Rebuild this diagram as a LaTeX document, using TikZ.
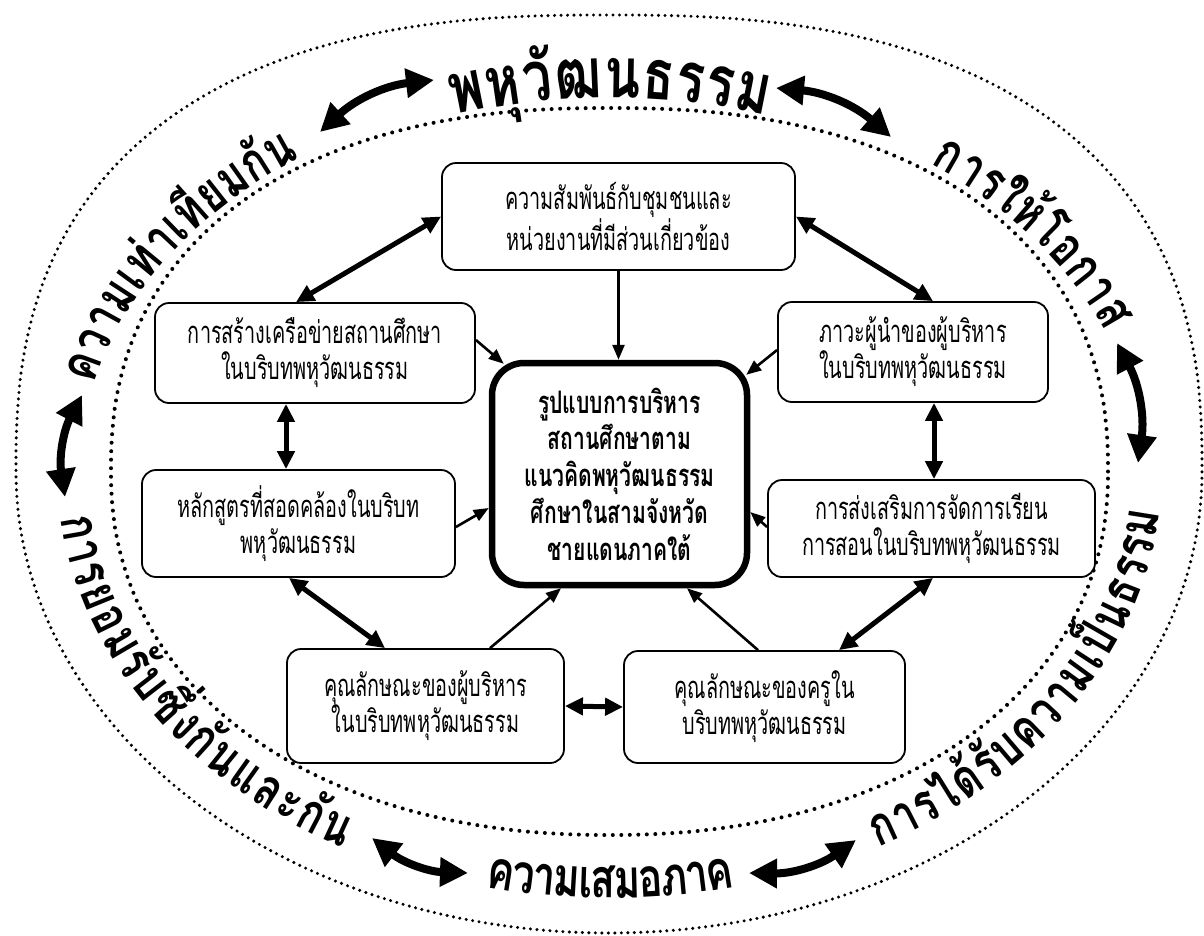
\documentclass[tikz,border=0pt]{standalone}
\usepackage{fontspec}
\usetikzlibrary{arrows.meta,calc}
\newfontfamily\thaifont[Script=Thai,FakeStretch=0.64]{Loma}
\newfontfamily\thaiboldfont[Script=Thai,FakeStretch=0.68]{Loma}
\newfontfamily\arcfont[Script=Thai,FakeStretch=0.75]{Loma}
\newlength\ATw
\newsavebox\ATbox
\newcommand\ATmeasure[1]{%
  \pgfinterruptpicture\global\setbox\ATbox\hbox{#1}\endpgfinterruptpicture
  \ATw=\wd\ATbox}
\newcommand\arctext[8]{%
  \pgfmathsetmacro\ATr{#4/#3}%
  \gdef\ATW{0}%
  \foreach \cl in {#8}{%
    \ATmeasure{#7\cl}%
    \pgfmathsetmacro\ATtmp{\ATW+\ATw}%
    \global\let\ATW\ATtmp
  }%
  \gdef\ATL{0}%
  \pgfmathsetmacro\ATdt{(#6-#5)/40}%
  \foreach \ii in {1,...,40}{%
    \pgfmathsetmacro\ATtt{#5+(\ii-0.5)*\ATdt}%
    \pgfmathsetmacro\ATtmp{\ATL+#3*sqrt(sin(\ATtt)^2+(\ATr*cos(\ATtt))^2)*abs(\ATdt)*pi/180}%
    \global\let\ATL\ATtmp
  }%
  \pgfmathsetmacro\ATk{\ATL/\ATW}%
  \pgfmathsetmacro\ATsg{(#6>#5) ? 1 : -1}%
  \gdef\ATt{#5}%
  \foreach \cl in {#8}{%
    \ATmeasure{#7\cl}%
    \pgfmathsetmacro\ATmid{\ATt+\ATsg*(\ATk*\ATw/2)/(#3*sqrt(sin(\ATt)^2+(\ATr*cos(\ATt))^2))*180/pi}%
    \pgfmathsetmacro\ATend{\ATmid+\ATsg*(\ATk*\ATw/2)/(#3*sqrt(sin(\ATmid)^2+(\ATr*cos(\ATmid))^2))*180/pi}%
    \pgfmathsetmacro\ATrot{\ATsg<0 ? atan2(-#4*cos(\ATmid), #3*sin(\ATmid)) : atan2(#4*cos(\ATmid), -#3*sin(\ATmid))}%
    \pgfmathsetmacro\ATx{#1+#3*cos(\ATmid)}%
    \pgfmathsetmacro\ATy{#2-#4*sin(\ATmid)}%
    \node[anchor=base,rotate=\ATrot,inner sep=0pt,outer sep=0pt] at (\ATx,\ATy) {#7\cl};
    \global\let\ATt\ATend
  }%
}
\tikzset{
  box/.style={draw, line width=1.8pt, rounded corners=14pt, align=center, inner sep=2pt,
    font=\thaifont\fontsize{31}{36}\selectfont, fill=white},
  mainbox/.style={draw, line width=6.5pt, rounded corners=32pt, align=center,
    font=\thaiboldfont\bfseries\fontsize{31}{36.7}\selectfont},
  one/.style={line width=2.6pt, -{Triangle[length=15pt,width=12pt]}},
  two/.style={line width=5pt, {Triangle[length=18pt,width=17pt]}-{Triangle[length=18pt,width=17pt]}},
  big/.style={line width=8pt, {Triangle[length=28pt,width=28pt]}-{Triangle[length=28pt,width=28pt]}},
  outerdots/.style={line width=3.4pt, line cap=round, dash pattern=on 0pt off 6.5pt},
  innerdots/.style={line width=4pt, line cap=round, dash pattern=on 0pt off 8.5pt},
}
\newcommand\arcbold{\arcfont\bfseries\fontsize{54}{54}\selectfont}
\newcommand\arcbig{\arcfont\bfseries\fontsize{70}{70}\selectfont}
\begin{document}
\begin{tikzpicture}[x=1pt,y=-1pt]
\useasboundingbox (0,0) rectangle (1204,935);
\fill[white] (0,0) rectangle (1204,935);
% outer and inner dotted rings
\draw[outerdots]
  plot[domain=0:180,samples=200,variable=\t]
    ({609+593*(cos(\t)<0?-1:1)*(abs(cos(\t))+0.00001)^(0.8)},{472-457*(abs(sin(\t))+0.00001)^(0.8)})
  -- plot[domain=180:360,samples=200,variable=\t]
    ({609+593*(cos(\t)<0?-1:1)*(abs(cos(\t))+0.00001)^(1.0)},{472+461*(abs(sin(\t))+0.00001)^(1.0)}) -- cycle;
\draw[innerdots]
  plot[domain=0:180,samples=200,variable=\t]
    ({609.5+498.5*(cos(\t)<0?-1:1)*(abs(cos(\t))+0.00001)^(0.87)},{471.5-363.5*(abs(sin(\t))+0.00001)^(0.87)})
  -- plot[domain=180:360,samples=200,variable=\t]
    ({609.5+498.5*(cos(\t)<0?-1:1)*(abs(cos(\t))+0.00001)^(0.93)},{471.5+363.5*(abs(sin(\t))+0.00001)^(0.93)}) -- cycle;

% boxes
\node[box, minimum width=353pt, minimum height=107pt] (t) at (618.5,216.5) {ความสัมพันธ์กับชุมชนและ\\หน่วยงานที่มีส่วนเกี่ยวข้อง};
\node[box, minimum width=320pt, minimum height=100pt] (ul) at (315,353) {การสร้างเครือข่ายสถานศึกษา\\ในบริบทพหุวัฒนธรรม};
\node[box, minimum width=270pt, minimum height=100pt] (ur) at (913,352) {ภาวะผู้นำของผู้บริหาร\\ในบริบทพหุวัฒนธรรม};
\node[box, minimum width=313pt, minimum height=107pt] (ml) at (298.5,523.5) {หลักสูตรที่สอดคล้องในบริบท\\พหุวัฒนธรรม};
\node[box, minimum width=327pt, minimum height=97pt] (mr) at (931.5,528.5) {การส่งเสริมการจัดการเรียน\\การสอนในบริบทพหุวัฒนธรรม};
\node[box, minimum width=277pt, minimum height=114pt] (bl) at (425.5,706) {คุณลักษณะของผู้บริหาร\\ในบริบทพหุวัฒนธรรม};
\node[box, minimum width=281pt, minimum height=112pt] (br) at (764.5,707) {คุณลักษณะของครูใน\\บริบทพหุวัฒนธรรม};
\node[mainbox, minimum width=255pt, minimum height=222pt] (c) at (619.5,474) {รูปแบบการบริหาร\\สถานศึกษาตาม\\แนวคิดพหุวัฒนธรรม\\ศึกษาในสามจังหวัด\\ชายแดนภาคใต้};

% connectors
\draw[one] (t.south) -- (t.south |- c.north);
\draw[two] (t.west) -- ([xshift=-19pt]ul.north);
\draw[two] (t.east) -- ([xshift=20pt]ur.north);
\draw[one] ([yshift=13pt]ul.east) -- ([shift={(15pt,-4pt)}]c.north west);
\draw[one] ([yshift=2pt]ur.west) -- ([shift={(-4pt,-15pt)}]c.north east);
\draw[two] ([xshift=-29pt]ul.south) -- ([xshift=-12.5pt]ml.north);
\draw[two] ([xshift=21pt]ur.south) -- ([xshift=2.5pt]mr.north);
\draw[one] ([yshift=-3.5pt]ml.east) -- ([yshift=-34pt]c.west);
\draw[one] ([yshift=1.5pt]mr.west) -- ([yshift=-38pt]c.east);
\draw[two] ([xshift=-9.5pt]ml.south) -- ([xshift=-40.5pt]bl.north);
\draw[two] ([xshift=1.5pt]mr.south) -- ([xshift=74.5pt]br.north);
\draw[one] ([xshift=64.5pt]bl.north) -- ([xshift=-58.5pt]c.south);
\draw[one] ([xshift=-6.5pt]br.north) -- ([xshift=67.5pt]c.south);
\draw[two] (bl.east) -- (br.west);

% curved texts
\arctext{610}{472}{530}{388}{167}{126}{\arcbold}{ค,ว,า,ม,เ,ท่,า,เ,ที,ย,ม,กั,น}
\arctext{610}{472}{522}{374}{107.5}{72.5}{\arcbig}{พ,หุ,วั,ฒ,น,ธ,ร,ร,ม}
\arctext{610}{472}{532}{386}{53}{21}{\arcbold}{ก,า,ร,ใ,ห้,โ,อ,ก,า,ส}
\arctext{610}{472}{552}{430}{186}{241}{\arcbold}{ก,า,ร,ย,อ,ม,รั,บ,ซึ่,ง,กั,น,แ,ล,ะ,กั,น}
\arctext{610}{472}{552}{426}{257}{283}{\arcbold}{ค,ว,า,ม,เ,ส,ม,อ,ภ,า,ค}
\arctext{610}{472}{552}{430}{299}{355}{\arcbold}{ก,า,ร,ไ,ด้,รั,บ,ค,ว,า,ม,เ,ป็,น,ธ,ร,ร,ม}

% big curved arrows
\coordinate (a1s) at (320,132); \coordinate (a1e) at (434,80);
\coordinate (a2s) at (776,88);  \coordinate (a2e) at (891,137);
\coordinate (a3s) at (1117,343); \coordinate (a3e) at (1138,463);
\coordinate (a4s) at (82,395);  \coordinate (a4e) at (65,497);
\coordinate (a5s) at (372,838); \coordinate (a5e) at (468,873);
\coordinate (a6s) at (749,873); \coordinate (a6e) at (856,840);
\draw[big] (a1s) to[bend left=18] (a1e);
\draw[big] (a2s) to[bend left=18] (a2e);
\draw[big] (a3s) to[bend left=18] (a3e);
\draw[big] (a4s) to[bend right=18] (a4e);
\draw[big] (a5s) to[bend right=18] (a5e);
\draw[big] (a6s) to[bend right=18] (a6e);
\end{tikzpicture}
\end{document}
